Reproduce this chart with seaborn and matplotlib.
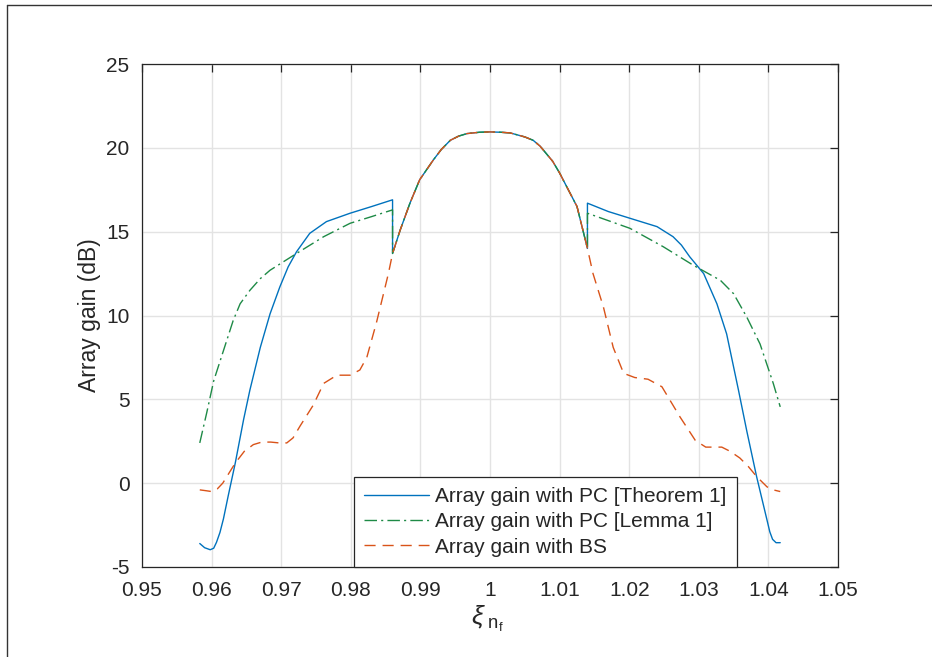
import numpy as np
import pandas as pd
import matplotlib
matplotlib.use("Agg")
import matplotlib.pyplot as plt
from matplotlib.lines import Line2D
import seaborn as sns

# ---------------- data ----------------
# shared main lobe (all three curves coincide)
lobe_x = [0.9860, 0.9871, 0.9885, 0.9899, 0.9919, 0.9930, 0.9943, 0.9955, 0.9967, 0.9985,
          1.0000, 1.0015, 1.0029, 1.0050, 1.0062, 1.0072, 1.0080, 1.0090, 1.0100, 1.0125, 1.0140]
lobe_y = [13.7, 15.1, 16.7, 18.1, 19.3, 19.9, 20.45, 20.7, 20.85, 20.93,
          20.95, 20.93, 20.89, 20.65, 20.45, 20.1, 19.7, 19.2, 18.5, 16.5, 14.0]

# Theorem 1 (blue)
thm_left_x = [0.9583, 0.9590, 0.9598, 0.9603, 0.9607, 0.9612, 0.9617, 0.9624, 0.9634,
              0.9646, 0.9655, 0.9670, 0.9684, 0.9698, 0.9710, 0.9722, 0.9741, 0.9765,
              0.9799, 0.9830, 0.9860]
thm_left_y = [-3.6, -3.85, -3.97, -3.88, -3.53, -2.94, -2.13, -0.73, 1.2,
              3.8, 5.55, 8.1, 10.1, 11.7, 12.9, 13.8, 14.9, 15.6,
              16.1, 16.5, 16.9]
thm_right_x = [1.0140, 1.0170, 1.0201, 1.0240, 1.0263, 1.0275, 1.0287, 1.0307, 1.0326,
               1.0340, 1.0357, 1.0369, 1.0383, 1.0398, 1.0402, 1.0406, 1.0411, 1.0417]
thm_right_y = [16.7, 16.2, 15.8, 15.3, 14.7, 14.2, 13.5, 12.5, 10.7,
               8.9, 5.55, 3.1, 0.4, -2.2, -2.9, -3.35, -3.55, -3.55]

# Lemma 1 (green)
lem_left_x = [0.9583, 0.9593, 0.9603, 0.9617, 0.9631, 0.9641, 0.9655, 0.9670, 0.9684,
              0.9722, 0.9761, 0.9799, 0.9830, 0.9860]
lem_left_y = [2.4, 4.2, 6.1, 7.9, 9.7, 10.7, 11.5, 12.2, 12.7,
              13.7, 14.7, 15.5, 15.9, 16.3]
lem_right_x = [1.0140, 1.0201, 1.0249, 1.0292, 1.0331, 1.0350, 1.0369, 1.0388, 1.0407, 1.0417]
lem_right_y = [16.1, 15.2, 14.1, 13.0, 12.1, 11.3, 9.9, 8.3, 5.95, 4.55]

# Beam squint (orange)
bs_left_x = [0.9583, 0.9592, 0.9600, 0.9608, 0.9616, 0.9625, 0.9634, 0.9647, 0.9660,
             0.9672, 0.9685, 0.9697, 0.9708, 0.9717, 0.9727, 0.9746, 0.9761, 0.9780,
             0.9799, 0.9813, 0.9823, 0.9837, 0.9847, 0.9854]
bs_left_y = [-0.4, -0.45, -0.5, -0.35, 0.0, 0.6, 1.2, 1.9, 2.3,
             2.45, 2.45, 2.4, 2.4, 2.7, 3.4, 4.65, 5.95, 6.44,
             6.44, 6.75, 7.5, 9.6, 11.3, 12.5]
bs_right_x = [1.0148, 1.0163, 1.0177, 1.0192, 1.0208, 1.0227, 1.0247, 1.0273, 1.0295,
              1.0310, 1.0322, 1.0333, 1.0345, 1.0359, 1.0371, 1.0383, 1.0398, 1.0407, 1.0417]
bs_right_y = [12.5, 10.5, 8.1, 6.55, 6.3, 6.2, 5.75, 3.95, 2.55,
              2.15, 2.15, 2.15, 1.9, 1.5, 1.0, 0.4, -0.22, -0.4, -0.5]

labels = ["Array gain with PC [Theorem 1]",
          "Array gain with PC [Lemma 1]",
          "Array gain with BS"]
x_ticks = [0.95, 0.96, 0.97, 0.98, 0.99, 1.00, 1.01, 1.02, 1.03, 1.04, 1.05]
x_ticklabels = ["0.95", "0.96", "0.97", "0.98", "0.99", "1", "1.01", "1.02", "1.03", "1.04", "1.05"]
y_ticks = [-5, 0, 5, 10, 15, 20, 25]
y_ticklabels = ["-5", "0", "5", "10", "15", "20", "25"]

# ---------------- build frames ----------------
def frame(xs, ys, name):
    return pd.DataFrame({"xi": xs, "gain": ys, "series": name})

df_thm = frame(thm_left_x + lobe_x + thm_right_x, thm_left_y + lobe_y + thm_right_y, labels[0])
df_lem = frame(lem_left_x + lobe_x + lem_right_x, lem_left_y + lobe_y + lem_right_y, labels[1])
df_bs = frame(bs_left_x + lobe_x + bs_right_x, bs_left_y + lobe_y + bs_right_y, labels[2])

# ---------------- style ----------------
sns.set_theme(style="white")
plt.rcParams["font.family"] = ["Liberation Sans", "DejaVu Sans"]
plt.rcParams["axes.unicode_minus"] = False
plt.rcParams["mathtext.fontset"] = "custom"
plt.rcParams["mathtext.rm"] = "Liberation Sans"
plt.rcParams["mathtext.it"] = "Liberation Sans:italic"

text_col = "#262626"
fig = plt.figure(figsize=(9.32, 6.57), dpi=100)
ax = fig.add_axes([142 / 932, 1 - 567 / 657, (838 - 142) / 932, (567 - 64) / 657])

colors = ["#0072BD", "#1E8A46", "#D95319"]
styles = ["-", (0, (9, 3, 1.5, 3)), (0, (8, 5))]
for d, c, ls in zip([df_thm, df_lem, df_bs], colors, styles):
    sns.lineplot(data=d, x="xi", y="gain", ax=ax, sort=False, estimator=None,
                 color=c, linewidth=1.0, linestyle=ls, label=d["series"].iloc[0])

ax.set_xlim(0.95, 1.05)
ax.set_ylim(-5, 25)
ax.set_xticks(x_ticks)
ax.set_xticklabels(x_ticklabels)
ax.set_yticks(y_ticks)
ax.set_yticklabels(y_ticklabels)
ax.grid(True, color="#e3e3e3", linewidth=1.0)
ax.set_axisbelow(True)
for s in ax.spines.values():
    s.set_visible(True)
    s.set_color(text_col)
    s.set_linewidth(0.9)
ax.tick_params(direction="in", length=6, width=0.9, colors=text_col, labelsize=15,
               top=True, right=True)
ax.tick_params(axis="x", pad=10)
ax.tick_params(axis="y", pad=9)
ax.set_ylabel("Array gain (dB)", fontsize=16.5, color=text_col, labelpad=4)
ax.set_xlabel(r"$\xi_{\ \mathrm{n}_{\mathrm{f}}}$", fontsize=19, color=text_col)
ax.xaxis.set_label_coords(0.4957, -0.074)

leg = ax.legend(loc="lower left", bbox_to_anchor=(0.3046, 0.0), borderaxespad=0,
                fontsize=15, frameon=True, fancybox=False, framealpha=1,
                handlelength=3.1, handletextpad=0.3, labelspacing=0.3,
                borderpad=0.5)
leg.get_frame().set_edgecolor(text_col)
leg.get_frame().set_linewidth(0.9)
for t in leg.get_texts():
    t.set_color(text_col)

# figure frame (left and top edges visible in the reference)
fig.add_artist(Line2D([7 / 932, 7 / 932], [0, 1 - 5 / 657], transform=fig.transFigure,
                      color="#333333", linewidth=1.0))
fig.add_artist(Line2D([7 / 932, 1], [1 - 5 / 657, 1 - 5 / 657], transform=fig.transFigure,
                      color="#333333", linewidth=1.0))

fig.savefig("out.png", dpi=100, facecolor="white")
